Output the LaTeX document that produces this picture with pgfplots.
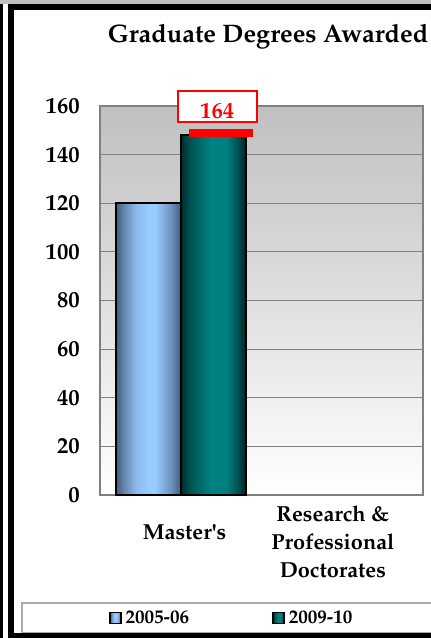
\documentclass[border=0pt]{standalone}
\usepackage[T1]{fontenc}
\usepackage{mathpazo}
\usepackage{pgfplots}
\pgfplotsset{compat=1.18}

\definecolor{bgtop}{RGB}{192,192,192}
\definecolor{bA}{RGB}{70,92,125}
\definecolor{bA2}{RGB}{100,135,175}
\definecolor{bB}{RGB}{140,185,235}
\definecolor{bC}{RGB}{153,204,255}
\definecolor{bD}{RGB}{110,145,190}
\definecolor{bE}{RGB}{70,90,125}
\definecolor{tA}{RGB}{0,45,45}
\definecolor{tB}{RGB}{0,85,85}
\definecolor{tC}{RGB}{0,128,128}
\definecolor{tD}{RGB}{0,80,80}
\definecolor{tE}{RGB}{0,35,35}
\definecolor{frgray}{RGB}{192,192,192}
\definecolor{leggray}{RGB}{170,170,170}

\pgfdeclarehorizontalshading{blueshade}{100bp}{color(0bp)=(bA); color(25bp)=(bA); color(31bp)=(bA2); color(40bp)=(bB); color(50bp)=(bC); color(55bp)=(bC); color(67.5bp)=(bD); color(75bp)=(bE); color(100bp)=(bE)}
\pgfdeclarehorizontalshading{tealshade}{100bp}{color(0bp)=(tA); color(25bp)=(tA); color(32.5bp)=(tB); color(47.5bp)=(tC); color(60bp)=(tC); color(69bp)=(tD); color(75bp)=(tE); color(100bp)=(tE)}

\begin{document}
\begin{tikzpicture}
\begin{axis}[
  at={(0,0)}, anchor=south west,
  scale only axis, width=241.9pt, height=291.75pt,
  xmin=-0.5, xmax=1.5, ymin=0, ymax=160,
  ytick={0,20,...,160},
  xtick={0.025,0.944},
  xticklabels={{\raisebox{-25pt}{Master\textquotesingle s}}, {Research \&\\Professional\\Doctorates}},
  major tick length=0pt,
  ymajorgrids, major grid style={gray, line width=0.75pt},
  axis line style={draw=gray, line width=1.5pt},
  axis background/.style={top color=bgtop, bottom color=white},
  tick label style={font=\fontsize{17}{20}\selectfont\bfseries, inner sep=0pt},
  /pgf/number format/assume math mode=true,
  yticklabel style={xshift=-15pt},
  xticklabel style={font=\fontsize{16.3}{21}\selectfont\bfseries, align=center, anchor=north, yshift=-8pt},
  clip=false,
  legend style={at={(0.0155,-0.316)}, anchor=west, draw=none, fill=none,
    legend columns=2, font=\fontsize{14.3}{16}\selectfont\bfseries,
    /tikz/every even column/.append style={column sep=61pt},
    cells={anchor=west},
    nodes={inner sep=1.5pt}},
  legend image code/.code={\draw[#1, draw=black, line width=1pt] (0pt,-4pt) rectangle (8.25pt,4.25pt);},
]
\addplot[ybar, bar width=48.5pt, bar shift=-24pt, draw=black, line width=1.5pt, shading=blueshade] coordinates {(0,120)};
\addlegendentry{\hspace{1.5pt}2005-06}
\addplot[ybar, bar width=48.5pt, bar shift=24.5pt, draw=black, line width=1.5pt, shading=tealshade] coordinates {(0,148)};
\addlegendentry{\hspace{1.5pt}2009-10}
\addplot[red, line width=6pt, forget plot] coordinates {(0.052,148.9) (0.449,148.9)};
\node[draw=red, line width=1.2pt, fill=white, minimum width=59.25pt, minimum height=23.25pt, inner sep=0pt] at (axis cs:0.227,159.7) {};
\node[text=red, anchor=base, inner sep=0pt, font=\fontsize{17}{20}\selectfont\bfseries] at (axis cs:0.227,154.7) {164};
\end{axis}
% title
\node[anchor=base, inner sep=0pt, font=\fontsize{19}{23}\selectfont\bfseries] at (126pt,339pt) {Graduate Degrees Awarded};
% legend frame
\draw[leggray, line width=0.9pt] (260pt,-81pt) -- (-58.5pt,-81pt) -- (-58.5pt,-103.5pt) -- (260pt,-103.5pt);
% outer frame
\fill[frgray] (-80pt,368.25pt) rectangle (260pt,375pt);
\draw[black, line width=2pt] (-74pt,368.25pt) -- (-74pt,-110pt);
\draw[black, line width=4.5pt] (260pt,366pt) -- (-67pt,366pt) -- (-67pt,-105.75pt) -- (260pt,-105.75pt);
\pgfresetboundingbox
\useasboundingbox (-75pt,-107.25pt) rectangle (248.25pt,371.25pt);
\end{tikzpicture}
\end{document}
